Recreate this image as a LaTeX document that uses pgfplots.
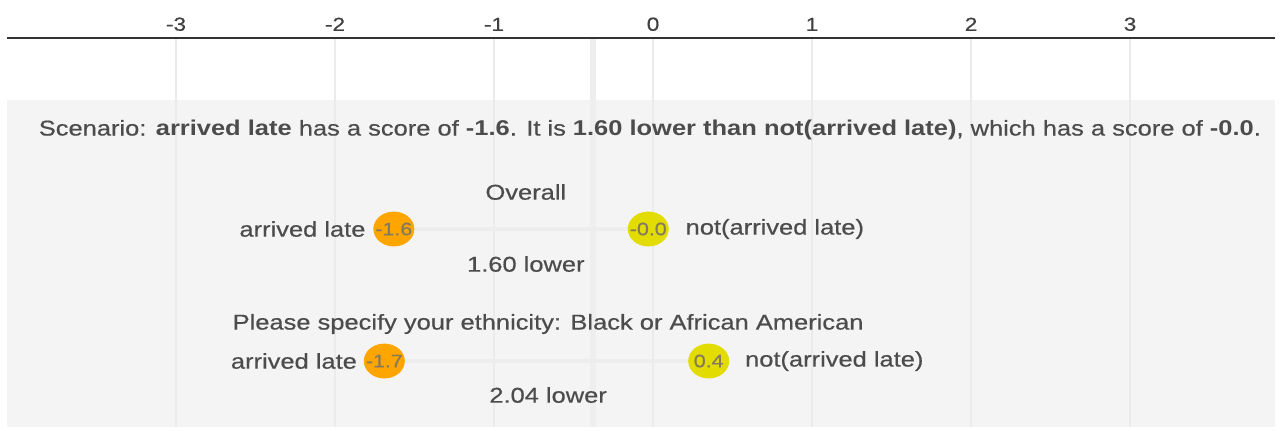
\documentclass[border=0pt]{standalone}
\usepackage{fontspec}
\setmainfont{Liberation Sans}[FakeStretch=1.19, UprightFeatures={FakeBold=0.5}]
\usepackage{pgfplots}
\pgfplotsset{compat=1.18}
\definecolor{bggray}{HTML}{F4F4F4}
\definecolor{gridc}{HTML}{EBEBEB}
\definecolor{bandc}{HTML}{EEEEEE}
\definecolor{txt}{HTML}{4C4C4C}
\definecolor{tickc}{HTML}{404040}
\definecolor{axc}{HTML}{333333}
\definecolor{dotorange}{HTML}{FFA500}
\definecolor{dotyellow}{HTML}{E3DC00}
\definecolor{dottxt}{HTML}{857A5E}
\definecolor{linkc}{HTML}{EDEDED}
\begin{document}
\begin{tikzpicture}
\begin{axis}[
  set layers,
  scale only axis, width=634pt, height=194.5pt,
  xmin=-4.063, xmax=3.912, ymin=0, ymax=389,
  axis x line*=top, axis y line=none,
  x axis line style={draw=axc, line width=1.3pt, -},
  xtick={-3,-2,-1,0,1,2,3},
  xticklabels={-3,-2,-1,0,1,2,3},
  xticklabel pos=upper,
  major tick length=0pt,
  xticklabel style={font=\fontsize{9.5}{11}\selectfont, text=tickc},
  ytick=\empty,
  xmajorgrids, grid style={draw=gridc, line width=1pt},
  clip=false,
]
\addplot[draw=none, fill=bggray, on layer=axis background] coordinates {(-4.063,327) (3.912,327)} \closedcycle;
\addplot[draw=bandc, line width=3pt, on layer=axis background] coordinates {(-0.38,0) (-0.38,389)};
% connecting lines
\addplot[draw=linkc, line width=2pt] coordinates {(-1.63,198) (-0.03,198)};
\addplot[draw=linkc, line width=2pt] coordinates {(-1.69,66) (0.35,66)};
% dots
\addplot[color=dotorange, only marks, mark=*, mark size=8.5pt, mark options={draw=dotorange, fill=dotorange, xscale=1.18},
  nodes near coords, point meta=explicit symbolic,
  every node near coord/.append style={anchor=center, font=\fontsize{9}{10}\selectfont, text=dottxt}]
  coordinates {(-1.63,198) [-1.6] (-1.69,66) [-1.7]};
\addplot[color=dotyellow, only marks, mark=*, mark size=8.5pt, mark options={draw=dotyellow, fill=dotyellow, xscale=1.18},
  nodes near coords, point meta=explicit symbolic,
  every node near coord/.append style={anchor=center, font=\fontsize{9}{10}\selectfont, text=dottxt}]
  coordinates {(-0.03,198) [-0.0] (0.35,66) [0.4]};
% texts
\tikzset{lbl/.style={inner sep=0pt, font=\fontsize{10.7}{12}\selectfont, text=txt}}
\node[lbl, anchor=center] at (axis cs:-0.02,297) {Scenario: \textbf{arrived late} has a score of \textbf{-1.6}. It is \textbf{1.60 lower than not(arrived late)}, which has a score of \textbf{-0.0}.};
\node[lbl, anchor=center] at (axis cs:-0.80,235) {Overall};
\node[lbl, anchor=center] at (axis cs:-0.80,163) {1.60 lower};
\node[lbl, anchor=east, xshift=-14pt] at (axis cs:-1.63,198) {arrived late};
\node[lbl, anchor=west, xshift=18.5pt] at (axis cs:-0.03,198) {not(arrived late)};
\node[lbl, anchor=center] at (axis cs:-0.66,103) {Please specify your ethnicity: Black or African American};
\node[lbl, anchor=center] at (axis cs:-0.66,32) {2.04 lower};
\node[lbl, anchor=east, xshift=-13.5pt] at (axis cs:-1.69,66) {arrived late};
\node[lbl, anchor=west, xshift=18pt] at (axis cs:0.35,66) {not(arrived late)};
\path (axis cs:-4.107,0) rectangle (axis cs:3.943,427);
\end{axis}
\end{tikzpicture}
\end{document}
